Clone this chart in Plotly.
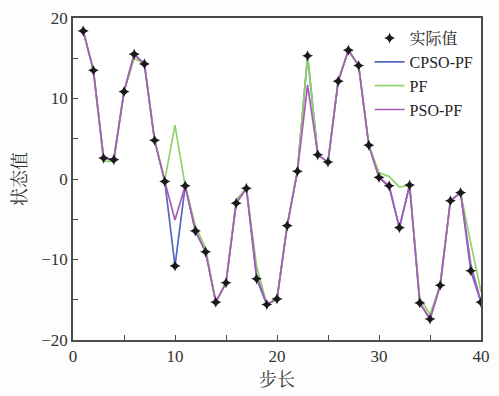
import plotly.graph_objects as go

# Step index
steps = list(range(1, 41))

# True state values
actual = [18.4, 13.5, 2.6, 2.4, 10.85, 15.5, 14.3, 4.8, -0.3, -10.8,
          -0.85, -6.45, -9.05, -15.3, -12.9, -3.0, -1.15, -12.4, -15.6, -14.9,
          -5.8, 0.95, 15.3, 3.0, 2.1, 12.15, 16.0, 14.1, 4.2, 0.2,
          -0.85, -6.05, -0.75, -15.4, -17.4, -13.2, -2.7, -1.7, -11.4, -15.3]

# CPSO-PF estimates
cpso_pf = [18.4, 13.5, 2.6, 2.4, 10.85, 15.5, 14.3, 4.8, -0.3, -10.8,
           -0.85, -6.45, -9.05, -15.3, -12.9, -3.0, -1.15, -12.4, -15.6, -14.9,
           -5.8, 0.95, 15.3, 3.0, 2.1, 12.15, 16.0, 14.1, 4.2, 0.2,
           -1.0, -6.05, -0.75, -15.4, -17.4, -13.2, -2.7, -1.7, -11.4, -15.3]

# PF estimates
pf = [18.4, 13.5, 2.2, 2.2, 10.85, 15.0, 14.3, 4.8, -0.1, 6.7,
      -0.85, -5.8, -8.6, -15.3, -12.9, -2.6, -1.15, -10.8, -15.6, -14.9,
      -5.8, 0.95, 15.3, 3.0, 2.1, 12.15, 16.0, 14.1, 4.2, 0.8,
      0.3, -1.0, -0.75, -14.8, -16.8, -13.2, -2.7, -1.7, -8.0, -14.0]

# PSO-PF estimates
pso_pf = [18.4, 13.5, 2.6, 2.4, 10.85, 15.5, 14.3, 4.8, -0.3, -5.1,
          -0.85, -6.45, -9.05, -15.3, -12.9, -3.0, -1.15, -12.0, -15.6, -14.9,
          -5.8, 0.95, 11.7, 3.0, 2.1, 12.15, 16.0, 14.1, 4.2, 0.2,
          -0.85, -6.05, -0.75, -15.4, -17.4, -13.2, -2.7, -1.7, -10.6, -15.3]

x_ticks = [0, 10, 20, 30, 40]
y_ticks = [-20, -10, 0, 10, 20]

FONT = "Liberation Serif, Noto Serif CJK SC, Noto Sans CJK SC, serif"

fig = go.Figure()

fig.add_trace(go.Scatter(x=steps, y=cpso_pf, mode="lines", name="CPSO-PF",
                         line=dict(color="#5468c6", width=1.7), legendrank=2))
fig.add_trace(go.Scatter(x=steps, y=pf, mode="lines", name="PF",
                         line=dict(color="#8fd46a", width=1.7), legendrank=3))
fig.add_trace(go.Scatter(x=steps, y=pso_pf, mode="lines", name="PSO-PF",
                         line=dict(color="#a95cb4", width=1.7), legendrank=4))
fig.add_trace(go.Scatter(x=steps, y=actual, mode="markers", name="实际值",
                         marker=dict(symbol="star-diamond", size=8, color="#1a1a1a"),
                         legendrank=1))

axis_common = dict(
    showgrid=False, zeroline=False,
    showline=True, linecolor="#4a4a4a", linewidth=1.5, mirror=True,
    ticks="inside", ticklen=5, tickwidth=1.2, tickcolor="#4a4a4a",
    tickfont=dict(family=FONT, size=17, color="#333333"),
)

fig.update_xaxes(range=[0, 40], tickvals=x_ticks,
                 minor=dict(tickvals=[5, 15, 25, 35], ticks="inside", ticklen=5,
                            tickwidth=1.2, tickcolor="#4a4a4a"),
                 title=dict(text="步长", font=dict(family=FONT, size=18, color="#333333"),
                            standoff=8),
                 **axis_common)
fig.update_yaxes(range=[-20, 20], tickvals=y_ticks,
                 minor=dict(tickvals=[-15, -5, 5, 15], ticks="inside", ticklen=5,
                            tickwidth=1.2, tickcolor="#4a4a4a"),
                 title=dict(text="状态值", font=dict(family=FONT, size=18, color="#333333"),
                            standoff=10),
                 **axis_common)

fig.update_layout(
    width=499, height=396, autosize=False,
    margin=dict(l=73, r=9, t=14, b=54),
    paper_bgcolor="#fdfdfd", plot_bgcolor="#ffffff",
    font=dict(family=FONT, color="#333333"),
    legend=dict(x=0.727, y=0.99, xanchor="left", yanchor="top",
                bgcolor="rgba(0,0,0,0)", borderwidth=0,
                font=dict(family=FONT, size=16, color="#222222"),
                tracegroupgap=0, itemwidth=30),
    showlegend=True,
)

fig.write_html("out.html")
